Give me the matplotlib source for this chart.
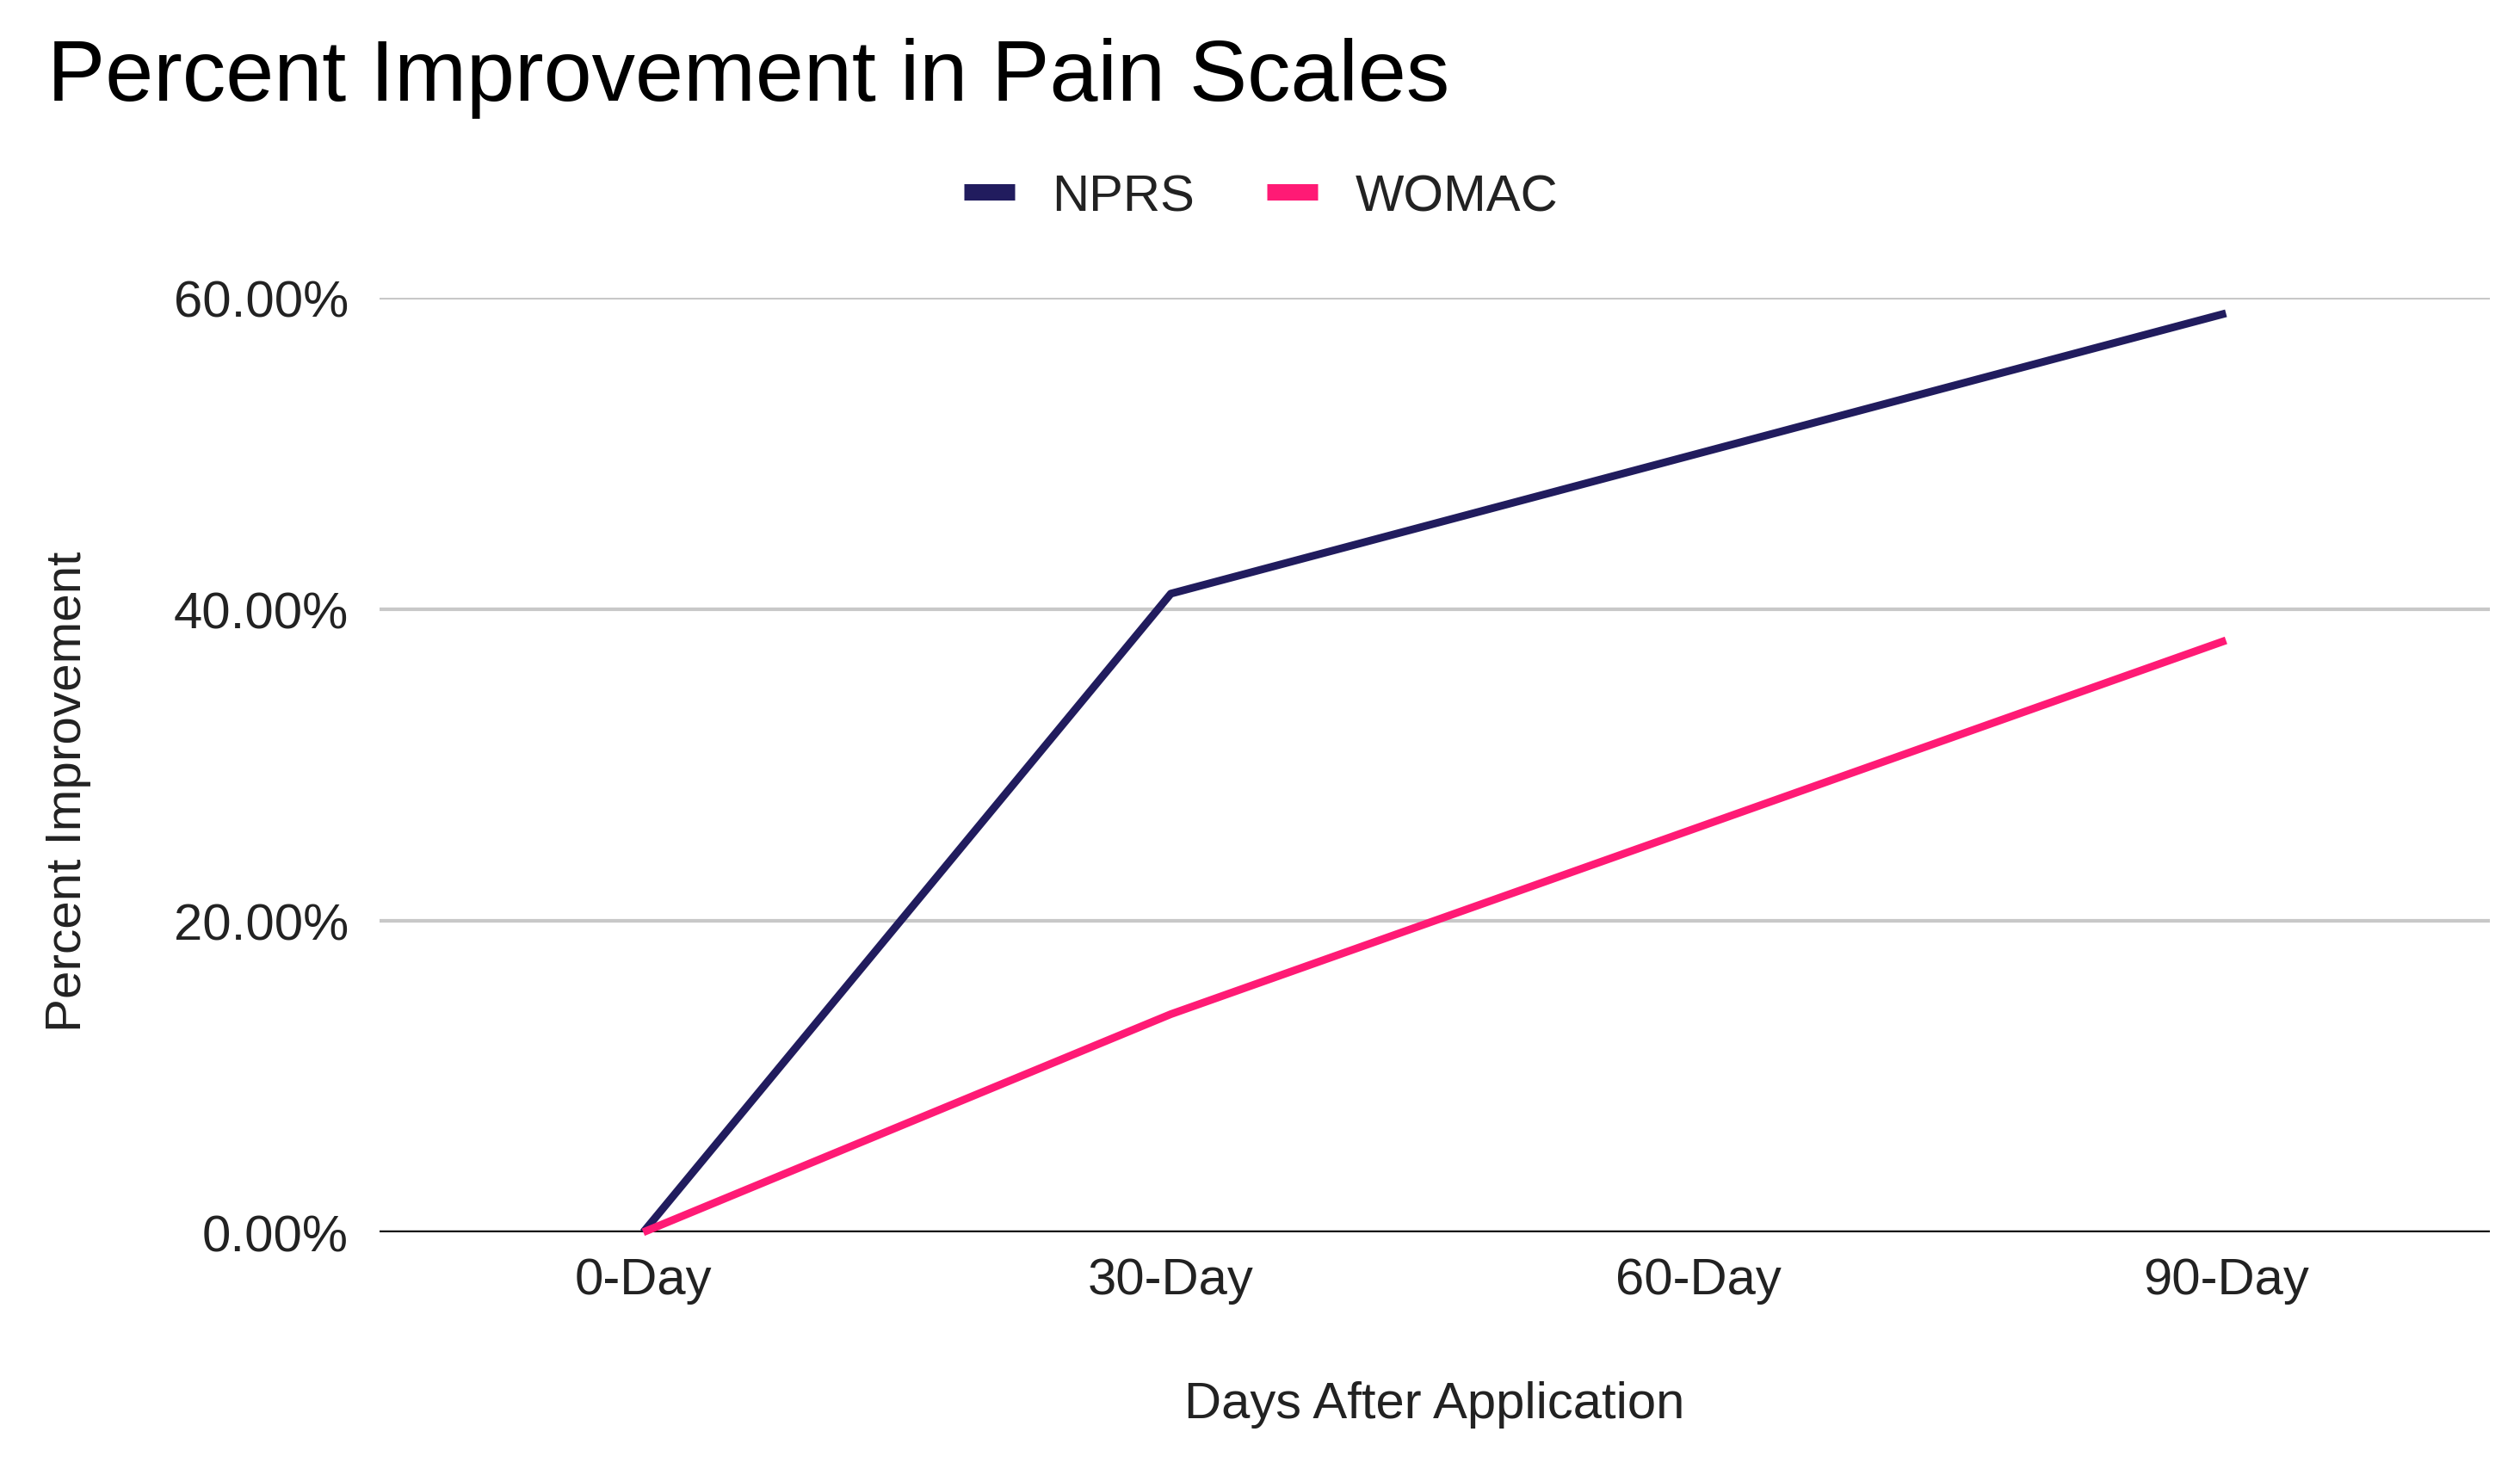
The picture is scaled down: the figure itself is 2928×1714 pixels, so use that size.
import matplotlib
matplotlib.use("Agg")
import matplotlib.pyplot as plt
from matplotlib.lines import Line2D
from matplotlib.ticker import PercentFormatter

plt.rcParams['font.family'] = ['Liberation Sans', 'DejaVu Sans']

categories = ["0-Day", "30-Day", "60-Day", "90-Day"]
npr_values = [0.0, 41.0, 50.0, 59.0]
womac_values = [0.0, 14.0, 26.0, 38.0]
y_ticks = [0, 20, 40, 60]
series_names = ["NPRS", "WOMAC"]
colors = ["#211c5e", "#ff1a75"]

fig = plt.figure(figsize=(29.28, 17.15), dpi=100)
ax = fig.add_axes([0.1506, 0.1645, 0.9880 - 0.1506, 0.7977 - 0.1645])

x = list(range(len(categories)))
ax.plot(x, npr_values, color=colors[0], lw=6.5, solid_capstyle='butt', zorder=3, clip_on=False)
ax.plot(x, womac_values, color=colors[1], lw=6.5, solid_capstyle='butt', zorder=3, clip_on=False)

ax.set_xlim(-0.5, len(categories) - 0.5)
ax.set_ylim(0, 60)
ax.set_yticks(y_ticks)
ax.yaxis.set_major_formatter(PercentFormatter(decimals=2))
ax.set_xticks(x)
ax.set_xticklabels(categories)
ax.grid(axis='y', color='#c8c8c8', lw=3)
ax.set_axisbelow(True)
ax.axhline(0, color='#111111', lw=3.2, zorder=2)
for s in ax.spines.values():
    s.set_visible(False)
ax.tick_params(axis='both', length=0, labelsize=43, labelcolor='#222222')
ax.tick_params(axis='y', pad=26)
ax.tick_params(axis='x', pad=20)

fig.text(0.0188, 0.932, "Percent Improvement in Pain Scales", fontsize=72.5,
         ha='left', va='baseline', color='#000000')
fig.text(0.027, 0.4636, "Percent Improvement", fontsize=42, rotation=90,
         ha='center', va='center', color='#222222')
fig.text(0.5693, 0.039, "Days After Application", fontsize=43,
         ha='center', va='baseline', color='#222222')

handles = [Line2D([0], [0], color=c, lw=13.7, solid_capstyle='butt') for c in colors]
fig.legend(handles, series_names, loc='center', bbox_to_anchor=(0.5003, 0.866),
           ncol=2, frameon=False, fontsize=43, handlelength=1.0,
           handletextpad=0.72, columnspacing=1.4, labelcolor='#222222')

fig.savefig("out.png", dpi=100)
